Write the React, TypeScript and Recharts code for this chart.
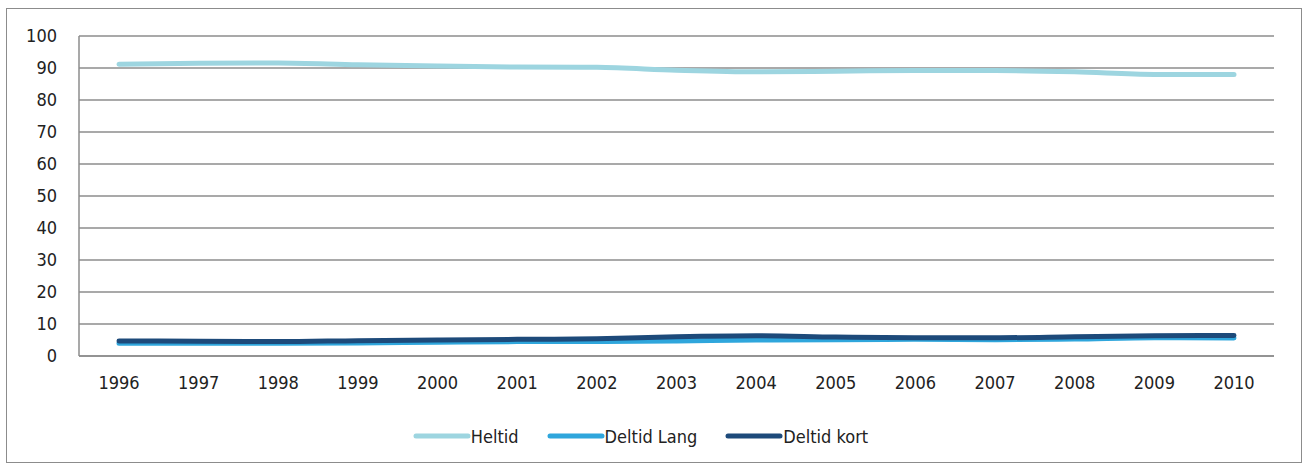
import { LineChart, Line, XAxis, YAxis, CartesianGrid, Legend } from "recharts";

const years = ["1996", "1997", "1998", "1999", "2000", "2001", "2002", "2003", "2004", "2005", "2006", "2007", "2008", "2009", "2010"];
const heltid = [91.2, 91.5, 91.6, 91.0, 90.6, 90.3, 90.2, 89.3, 88.8, 89.0, 89.2, 89.2, 88.8, 88.0, 88.0];
const deltidLang = [4.0, 4.0, 4.0, 4.1, 4.3, 4.5, 4.5, 4.7, 5.0, 5.1, 5.2, 5.1, 5.3, 5.7, 5.6];
const deltidKort = [4.7, 4.6, 4.5, 4.8, 5.0, 5.2, 5.4, 6.0, 6.3, 5.9, 5.7, 5.7, 6.0, 6.3, 6.4];
const yTicks = [0, 10, 20, 30, 40, 50, 60, 70, 80, 90, 100];

const series = [
  { key: "Heltid", color: "#9dd5e0" },
  { key: "Deltid Lang", color: "#2fa6dc" },
  { key: "Deltid kort", color: "#1d4a7a" },
];

const data = years.map((y, i) => ({
  year: y,
  Heltid: heltid[i],
  "Deltid Lang": deltidLang[i],
  "Deltid kort": deltidKort[i],
}));

const FONT = "'DejaVu Sans Condensed', 'DejaVu Sans', sans-serif";

function LegendContent() {
  return (
    <div
      style={{
        display: "flex",
        justifyContent: "center",
        alignItems: "center",
        height: 56,
        paddingTop: 4,
        boxSizing: "border-box",
        gap: 28,
        fontFamily: FONT,
        fontSize: 18,
        color: "#222",
      }}
    >
      {series.map((s) => (
        <div key={s.key} style={{ display: "flex", alignItems: "center" }}>
          <svg width={58} height={10}>
            <line x1={3} y1={5} x2={55} y2={5} stroke={s.color} strokeWidth={5} strokeLinecap="round" />
          </svg>
          <span>{s.key}</span>
        </div>
      ))}
    </div>
  );
}

export default function App() {
  return (
    <div
      style={{
        position: "absolute",
        left: 6,
        top: 8,
        width: 1294,
        height: 453,
        border: "1px solid #8c8c8c",
        background: "#fff",
      }}
    >
      <LineChart width={1294} height={453} data={data} margin={{ top: 27, right: 27, left: 0, bottom: 0 }}>
        <CartesianGrid vertical={false} stroke="#8c8c8c" strokeWidth={1.5} />
        <XAxis
          dataKey="year"
          padding={{ left: 40, right: 40 }}
          axisLine={{ stroke: "#8c8c8c", strokeWidth: 1.5 }}
          tickLine={false}
          tickMargin={14}
          tick={{ fontFamily: FONT, fontSize: 18, fill: "#222" }}
          height={50}
        />
        <YAxis
          width={72}
          domain={[0, 100]}
          ticks={yTicks}
          interval={0}
          axisLine={{ stroke: "#8c8c8c", strokeWidth: 1.5 }}
          tickLine={false}
          tickMargin={16}
          tick={{ fontFamily: FONT, fontSize: 18, fill: "#222" }}
        />
        <Legend verticalAlign="bottom" height={56} content={<LegendContent />} />
        {series.map((s) => (
          <Line
            key={s.key}
            type="monotone"
            dataKey={s.key}
            stroke={s.color}
            strokeWidth={5}
            strokeLinecap="round"
            dot={false}
            isAnimationActive={false}
          />
        ))}
      </LineChart>
    </div>
  );
}
